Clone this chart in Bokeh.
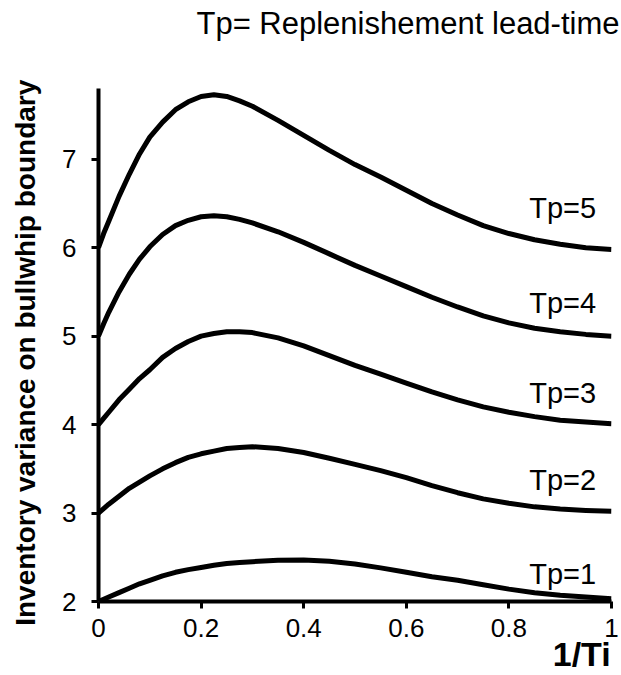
from bokeh.plotting import figure
from bokeh.models import FixedTicker, Title
from bokeh.core.properties import value
from bokeh.embed import file_html
from bokeh.resources import INLINE

inv_ti = [0, 0.01, 0.02, 0.04, 0.06, 0.08, 0.10, 0.125, 0.15, 0.175, 0.20, 0.225, 0.25, 0.275,
          0.30, 0.35, 0.40, 0.45, 0.50, 0.55, 0.60, 0.65, 0.70, 0.75, 0.80, 0.85, 0.90, 0.95, 1.00]

tp1 = [2.00, 2.025, 2.05, 2.10, 2.15, 2.20, 2.24, 2.29, 2.33, 2.36, 2.385, 2.41, 2.43, 2.44,
       2.45, 2.465, 2.47, 2.455, 2.425, 2.38, 2.33, 2.28, 2.24, 2.19, 2.14, 2.10, 2.07, 2.05, 2.03]
tp2 = [3.00, 3.05, 3.10, 3.19, 3.28, 3.35, 3.42, 3.50, 3.57, 3.63, 3.67, 3.70, 3.73, 3.74,
       3.75, 3.73, 3.685, 3.62, 3.55, 3.48, 3.40, 3.31, 3.23, 3.16, 3.11, 3.07, 3.045, 3.03, 3.02]
tp3 = [4.00, 4.07, 4.14, 4.28, 4.40, 4.52, 4.62, 4.76, 4.86, 4.94, 5.00, 5.03, 5.05, 5.05,
       5.04, 4.98, 4.89, 4.78, 4.67, 4.57, 4.47, 4.37, 4.28, 4.20, 4.14, 4.09, 4.05, 4.03, 4.01]
tp4 = [5.00, 5.14, 5.27, 5.50, 5.70, 5.87, 6.01, 6.15, 6.25, 6.31, 6.35, 6.36, 6.35, 6.32,
       6.28, 6.18, 6.06, 5.93, 5.80, 5.68, 5.56, 5.44, 5.33, 5.23, 5.15, 5.09, 5.05, 5.02, 5.00]
tp5 = [6.00, 6.16, 6.30, 6.58, 6.83, 7.06, 7.25, 7.42, 7.56, 7.65, 7.71, 7.73, 7.71, 7.66,
       7.60, 7.44, 7.27, 7.10, 6.94, 6.80, 6.65, 6.50, 6.37, 6.25, 6.16, 6.09, 6.04, 6.00, 5.98]

series = [("Tp=1", tp1), ("Tp=2", tp2), ("Tp=3", tp3), ("Tp=4", tp4), ("Tp=5", tp5)]
label_y = [2.31, 3.37, 4.36, 5.38, 6.45]

x_ticks = [0, 0.2, 0.4, 0.6, 0.8, 1]
x_tick_labels = {0: "0", 0.2: "0.2", 0.4: "0.4", 0.6: "0.6", 0.8: "0.8", 1: "1"}
y_ticks = [2, 3, 4, 5, 6, 7]

title_text = "Tp= Replenishement lead-time"
x_label = "1/Ti"
y_label = "Inventory variance on bullwhip boundary"

FONT = "Liberation Sans"
NBSP = "\u00a0"

p = figure(width=621, height=675, output_backend="svg", toolbar_location=None,
           x_range=(0, 1.0), y_range=(2, 7.8), title=None,
           min_border_left=98, min_border_right=10, min_border_top=88, min_border_bottom=73)
p.outline_line_color = None
p.xgrid.grid_line_color = None
p.ygrid.grid_line_color = None
p.background_fill_color = "white"
p.border_fill_color = "white"

# spacer between frame and title, then the title itself
p.add_layout(Title(text=NBSP, text_font_size="10px", standoff=35), "above")
p.add_layout(Title(text=title_text, align="right", offset=-8, standoff=0,
                   text_font=FONT, text_font_size="31px", text_font_style="normal",
                   text_color="black"), "above")

for ax in (p.xaxis[0], p.yaxis[0]):
    ax.axis_line_width = 4
    ax.axis_line_color = "black"
    ax.major_tick_line_width = 3
    ax.major_tick_line_color = "black"
    ax.major_tick_in = 0
    ax.major_tick_out = 7
    ax.minor_tick_line_color = None
    ax.major_label_text_font = FONT
    ax.major_label_text_font_size = "26px"
    ax.major_label_text_color = "black"

p.xaxis.ticker = FixedTicker(ticks=x_ticks)
p.xaxis.major_label_overrides = x_tick_labels
p.xaxis.major_label_standoff = 10
p.yaxis.ticker = FixedTicker(ticks=y_ticks)
p.yaxis.major_label_standoff = 15

p.yaxis.axis_label = y_label + NBSP * 2
p.yaxis.axis_label_text_font = FONT
p.yaxis.axis_label_text_font_size = "28px"
p.yaxis.axis_label_text_font_style = "bold"
p.yaxis.axis_label_text_color = "black"
p.yaxis.axis_label_standoff = 18

xax = p.xaxis[0]
xax.axis_label = NBSP * 48 + x_label
xax.axis_label_text_font = FONT
xax.axis_label_text_font_size = "34px"
xax.axis_label_text_font_style = "bold"
xax.axis_label_text_color = "black"
xax.axis_label_standoff = -5

for name, ys in series:
    p.line(inv_ti, ys, line_width=5, line_color="black", line_join="round")

p.text(x=[0.97] * 5, y=label_y, text=[s[0] for s in series],
       text_font=value(FONT), text_font_size="29px", text_align="right",
       text_baseline="middle", text_color="black")

open("out.html", "w").write(file_html(p, INLINE))
